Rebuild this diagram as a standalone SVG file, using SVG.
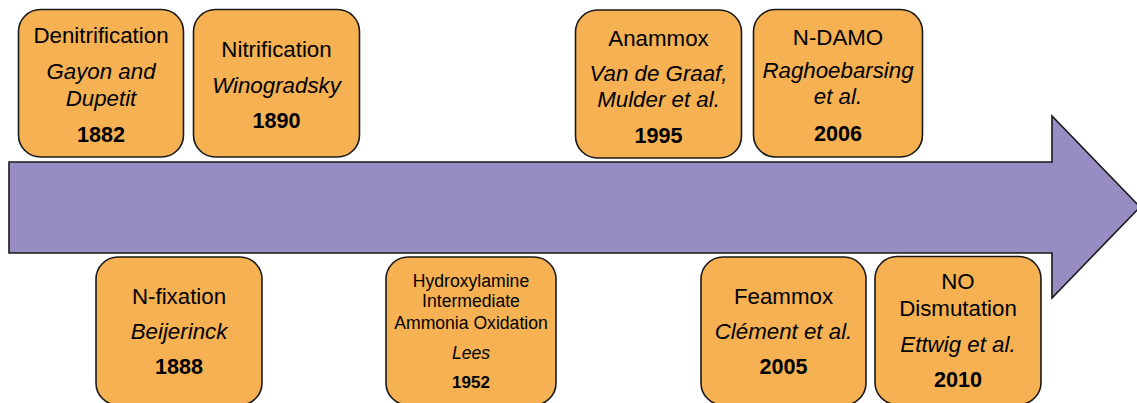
<svg xmlns="http://www.w3.org/2000/svg" width="1137" height="403" viewBox="0 0 1137 403">
<style>
.box{fill:#F5B152;stroke:#1a1a1a;stroke-width:1.6}
.arrow{fill:#978DC3;stroke:#1a1a1a;stroke-width:1.6}
text{font-family:"Liberation Sans",Arial,sans-serif;font-size:22.3px;fill:#000;text-anchor:middle}
.i{font-style:italic}
.b{font-weight:bold;font-size:21.6px}
.s{font-size:17.6px}
.sb{font-weight:bold;font-size:17px}
</style>
<rect width="1137" height="403" fill="#fff"/>
<g id="connectors">
<path class="arrow" d="M9 162 H1052 V116 L1140 207 L1052 298 V253 H9 Z"/>
</g>
<g id="denitrification">
<rect class="box" x="18.5" y="9.5" width="165" height="147.5" rx="22"/>
<text x="101" y="43">Denitrification</text>
<text class="i" x="101" y="79">Gayon and</text>
<text class="i" x="101" y="105.5">Dupetit</text>
<text class="b" x="101" y="141.5">1882</text>
</g>
<g id="nitrification">
<rect class="box" x="193.5" y="9.5" width="166" height="147.5" rx="22"/>
<text x="276.5" y="57">Nitrification</text>
<text class="i" x="276.5" y="93">Winogradsky</text>
<text class="b" x="276.5" y="128">1890</text>
</g>
<g id="anammox">
<rect class="box" x="575.5" y="10" width="166" height="148" rx="22"/>
<text x="658.5" y="45.5">Anammox</text>
<text class="i" x="658.5" y="81">Van de Graaf,</text>
<text class="i" x="658.5" y="106.5">Mulder et al.</text>
<text class="b" x="658.5" y="142.5">1995</text>
</g>
<g id="ndamo">
<rect class="box" x="753.5" y="9.5" width="169" height="147.5" rx="22"/>
<text x="838" y="45">N-DAMO</text>
<text class="i" x="838" y="77.5">Raghoebarsing</text>
<text class="i" x="838" y="103.5">et al.</text>
<text class="b" x="838" y="140.5">2006</text>
</g>
<g id="nfixation">
<rect class="box" x="96" y="257" width="166" height="148" rx="22"/>
<text x="179" y="304">N-fixation</text>
<text class="i" x="179" y="339">Beijerinck</text>
<text class="b" x="179" y="373.5">1888</text>
</g>
<g id="hydroxylamine">
<rect class="box" x="386" y="257" width="170" height="148" rx="22"/>
<text class="s" x="471" y="286.5">Hydroxylamine</text>
<text class="s" x="471" y="306.5">Intermediate</text>
<text class="s" x="471" y="329">Ammonia Oxidation</text>
<text class="s i" x="471" y="359">Lees</text>
<text class="sb" x="471" y="388">1952</text>
</g>
<g id="feammox">
<rect class="box" x="701" y="257" width="165" height="148" rx="22"/>
<text x="783.5" y="304">Feammox</text>
<text class="i" x="783.5" y="339">Clément et al.</text>
<text class="b" x="783.5" y="374">2005</text>
</g>
<g id="nodismutation">
<rect class="box" x="875" y="256.5" width="166" height="148" rx="22"/>
<text x="958" y="289">NO</text>
<text x="958" y="316">Dismutation</text>
<text class="i" x="958" y="351.5">Ettwig et al.</text>
<text class="b" x="958" y="387">2010</text>
</g>
</svg>
